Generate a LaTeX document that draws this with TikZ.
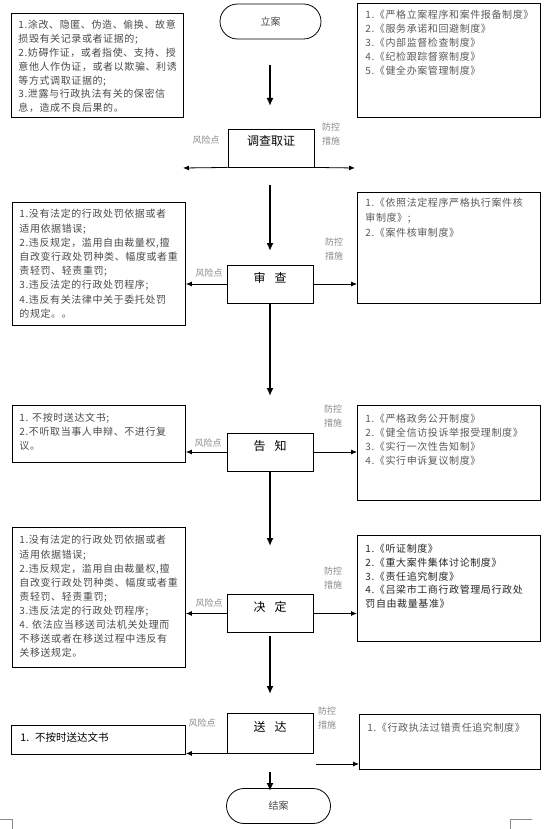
\documentclass[tikz,border=0pt]{standalone}
\usepackage{fontspec}
\setmainfont{Noto Sans CJK SC}
\newfontfamily\spacedcjk[LetterSpace=6]{Noto Sans CJK SC}
\usetikzlibrary{arrows.meta,shapes.misc,calc}

\definecolor{txtgray}{HTML}{4A4A4A}
\definecolor{rtgray}{HTML}{5A5A5A}
\definecolor{lblgray}{HTML}{8A8A8A}

\newcommand\lfont{\spacedcjk\fontsize{10}{14}\selectfont\color{txtgray}}
\newcommand\rfont{\spacedcjk\fontsize{10}{14}\selectfont\color{rtgray}}

\tikzset{
  box/.style={draw, line width=0.9pt, anchor=north west},
  proc/.style={draw, line width=0.9pt, minimum width=86pt, minimum height=38pt, inner sep=0pt,
    font=\fontsize{12}{14}\selectfont, text height=8pt, text depth=12pt},
  term/.style={draw, rounded rectangle, line width=0.8pt, minimum width=101pt, minimum height=35pt,
    inner sep=0pt, font=\fontsize{10}{12}\selectfont, text=txtgray},
  vflow/.style={line width=1.8pt, -{Latex[length=8pt,width=7pt]}},
  hflow/.style={line width=0.8pt, -{Latex[length=6pt,width=5pt]}},
  lbl/.style={font=\fontsize{9}{13.5}\selectfont, text=lblgray, align=center, inner sep=0pt},
  corner/.style={line width=0.6pt, draw=lblgray},
}

\begin{document}
\begin{tikzpicture}[x=1pt,y=-1pt]
\useasboundingbox (0,0) rectangle (545,829);

% terminals
\node[term] (start) at (270.5,21.5) {立案};
\node[term, minimum width=104pt, minimum height=35pt] (end) at (278.5,806) {结案};

% process boxes
\node[proc] (p1) at (271,148) {调查取证};
\node[proc] (p2) at (270,284) {审\hspace{9pt}查};
\node[proc] (p3) at (270,452) {告\hspace{9pt}知};
\node[proc] (p4) at (270,613.5) {决\hspace{9pt}定};
\node[proc, minimum height=40pt] (p5) at (270,733) {送\hspace{9pt}达};

% left (risk) boxes
\node[box, inner xsep=7pt, inner ysep=7pt] (L1) at (11,13) {\begin{minipage}[t][90pt][t]{158pt}\lfont\setlength{\baselineskip}{13.8pt}
1.涂改、隐匿、伪造、偷换、故意\\
损毁有关记录或者证据的;\\
2.妨碍作证，或者指使、支持、授\\
意他人作伪证，或者以欺骗、利诱\\
等方式调取证据的;\\
3.泄露与行政执法有关的保密信\\
息，造成不良后果的。\end{minipage}};

\node[box, inner xsep=7pt, inner ysep=7pt] (L2) at (12,202) {\begin{minipage}[t][109pt][t]{159pt}\lfont\setlength{\baselineskip}{14.2pt}
1.没有法定的行政处罚依据或者\\
适用依据错误;\\
2.违反规定，滥用自由裁量权,擅\\
自改变行政处罚种类、幅度或者重\\
责轻罚、轻责重罚;\\
3.违反法定的行政处罚程序;\\
4.违反有关法律中关于委托处罚\\
的规定。。\end{minipage}};

\node[box, inner xsep=7pt, inner ysep=8pt] (L3) at (12,405) {\begin{minipage}[t][41pt][t]{159pt}\lfont
1. 不按时送达文书;\\
2.不听取当事人申辩、不进行复\\
议。\end{minipage}};

\node[box, inner xsep=7pt, inner ysep=8pt] (L4) at (12,527) {\begin{minipage}[t][124pt][t]{159pt}\lfont\setlength{\baselineskip}{14.1pt}
1.没有法定的行政处罚依据或者\\
适用依据错误;\\
2.违反规定，滥用自由裁量权,擅\\
自改变行政处罚种类、幅度或者重\\
责轻罚、轻责重罚;\\
3.违反法定的行政处罚程序;\\
4. 依法应当移送司法机关处理而\\
不移送或者在移送过程中违反有\\
关移送规定。\end{minipage}};

\node[box, inner xsep=9pt, inner ysep=7pt] (L5) at (11,725) {\begin{minipage}[t][15pt][t]{156pt}\fontsize{10.5}{14}\selectfont
1.\hspace{6pt}不按时送达文书\end{minipage}};

% right (measure) boxes
\node[box, inner xsep=8pt, inner ysep=7pt] (R1) at (357,3) {\begin{minipage}[t][100pt][t]{167pt}\rfont
1.《严格立案程序和案件报备制度》\\
2.《服务承诺和回避制度》\\
3.《内部监督检查制度》\\
4.《纪检跟踪督察制度》\\
5.《健全办案管理制度》\end{minipage}};

\node[box, inner xsep=8pt, inner ysep=6pt] (R2) at (357,192) {\begin{minipage}[t][99pt][t]{167pt}\rfont\setlength{\baselineskip}{15pt}
1.《依照法定程序严格执行案件核\\
审制度》;\\
2.《案件核审制度》\end{minipage}};

\node[box, inner xsep=8pt, inner ysep=9pt] (R3) at (357,405) {\begin{minipage}[t][77pt][t]{167pt}\rfont
1.《严格政务公开制度》\\
2.《健全信访投诉举报受理制度》\\
3.《实行一次性告知制》\\
4.《实行申诉复议制度》\end{minipage}};

\node[box, inner xsep=8pt, inner ysep=9pt] (R4) at (357,535) {\begin{minipage}[t][88pt][t]{167pt}\spacedcjk\fontsize{10}{13.6}\selectfont\color{black!85}
1.《听证制度》\\
2.《重大案件集体讨论制度》\\
3.《责任追究制度》\\
4.《吕梁市工商行政管理局行政处\\
罚自由裁量基准》\end{minipage}};

\node[box, inner xsep=8pt, inner ysep=9pt] (R5) at (359,714) {\begin{minipage}[t][37pt][t]{165pt}\rfont
1.《行政执法过错责任追究制度》\end{minipage}};

% labels
\node[lbl] (k1) at (206,140) {风险点};
\node[lbl] (k2) at (209,273) {风险点};
\node[lbl] (k3) at (208,443) {风险点};
\node[lbl] (k4) at (209,603) {风险点};
\node[lbl] (k5) at (202,723) {风险点};
\node[lbl] (c1) at (331,134) {防控\\措施};
\node[lbl] (c2) at (334,249) {防控\\措施};
\node[lbl] (c3) at (333,416) {防控\\措施};
\node[lbl] (c4) at (333,578) {防控\\措施};
\node[lbl] (c5) at (327,718) {防控\\措施};

% vertical flow
\coordinate (a0s) at (270,65);
\coordinate (a0e) at (270,106);
\coordinate (a1s) at (270,185);
\coordinate (a1e) at (270,251);
\coordinate (a2e) at (270,396);
\coordinate (a3e) at (270,546);
\coordinate (a4s) at (270,636);
\coordinate (a4e) at (270,694);
\coordinate (a5s) at (270,772);
\coordinate (a5e) at (270,791);
\draw[vflow] (a0s) -- (a0e);
\draw[vflow] (a1s) -- (a1e);
\draw[vflow] (p2.south) -- (a2e);
\draw[vflow] (p3.south) -- (a3e);
\draw[vflow] (a4s) -- (a4e);
\draw[vflow] (a5s) -- (a5e);

% horizontal arrows
\coordinate (f1l) at (183,168);
\coordinate (f1r) at (355,168);
\draw[hflow] (p1.south west) -- (f1l);
\draw[hflow] (p1.south east) -- (f1r);
\draw[hflow] (p2.west) -- (p2.west -| L2.east);
\draw[hflow] (p2.east) -- (p2.east -| R2.west);
\draw[hflow] (p3.west) -- (p3.west -| L3.east);
\draw[hflow] (p3.east) -- (p3.east -| R3.west);
\draw[hflow] (p4.west) -- (p4.west -| L4.east);
\draw[hflow] (p4.east) -- (p4.east -| R4.west);
\draw[hflow] (p5.south west) -- (p5.south west -| L5.east);
\coordinate (f5r) at (316,764);
\draw[hflow] (f5r) -- (f5r -| R5.west);

% page corner marks
\draw[corner] (0,819) -- (12,819) -- (12,829);
\draw[corner] (532,819) -- (510,819) -- (510,829);
\end{tikzpicture}
\end{document}
